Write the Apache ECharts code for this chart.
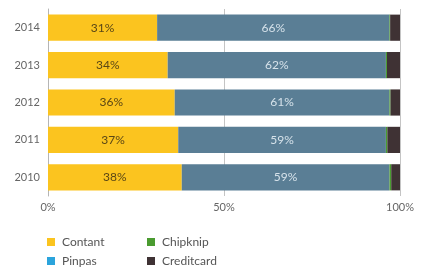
<!DOCTYPE html>
<html><head><meta charset="utf-8">
<script src="https://cdn.jsdelivr.net/npm/echarts@6/dist/echarts.min.js"></script>
<style>html,body{margin:0;padding:0;background:#fff}#c{width:432px;height:271px}</style>
</head><body><div id="c"></div>
<script>
var years = ['2014','2013','2012','2011','2010'];
var contant = [31, 34, 36, 37, 38];
var pinpas = [66, 62, 61, 59, 59];
var chipknip = [0.2, 0.3, 0.3, 0.4, 0.5];
var creditcard = [2.8, 3.7, 2.7, 3.6, 2.5];
var xTicks = [0, 50, 100];

var chart = echarts.init(document.getElementById('c'));
var font = 'Lato';
function lg(name, left, top, color) {
  var d = {name: name};
  if (color) d.itemStyle = {color: color};
  return {
    left: left, top: top, orient: 'horizontal', itemWidth: 8, itemHeight: 8, padding: 0,
    icon: 'rect', textStyle: {color: '#555', fontFamily: font, fontSize: 12, padding: [0,0,0,2]},
    data: [d]
  };
}
chart.setOption({
  animation: false,
  grid: {left: 48, right: 32, top: 9, bottom: 75},
  xAxis: {
    type: 'value', min: xTicks[0], max: xTicks[2], interval: xTicks[1] - xTicks[0],
    axisLine: {show: false}, axisTick: {show: false},
    splitLine: {show: true, lineStyle: {color: '#c4c4c4', width: 1}},
    axisLabel: {formatter: '{value}%', color: '#666', fontFamily: font, fontSize: 11, margin: 6}
  },
  yAxis: {
    type: 'category', data: years, inverse: true,
    axisLine: {show: true, lineStyle: {color: '#b5b5b5'}}, axisTick: {show: false},
    axisLabel: {color: '#666', fontFamily: font, fontSize: 11, margin: 8}
  },
  legend: [
    lg('Contant', 47, 236),
    lg('Pinpas', 47, 255, '#2ba4dc'),
    lg('Chipknip', 147, 236),
    lg('Creditcard', 147, 255)
  ],
  series: [
    {name: 'Contant', type: 'bar', stack: 't', data: contant, barCategoryGap: '30%',
     itemStyle: {color: '#fbc41f'},
     label: {show: true, position: 'inside', formatter: '{c}%', color: '#5a4716', fontFamily: font, fontSize: 12}},
    {name: 'Pinpas', type: 'bar', stack: 't', data: pinpas,
     itemStyle: {color: '#5a7e95'},
     label: {show: true, position: 'inside', formatter: '{c}%', color: '#d6e2ea', fontFamily: font, fontSize: 12}},
    {name: 'Chipknip', type: 'bar', stack: 't', data: chipknip, itemStyle: {color: '#4a9b30'}},
    {name: 'Creditcard', type: 'bar', stack: 't', data: creditcard, itemStyle: {color: '#3f3234'}}
  ]
});
</script></body></html>
